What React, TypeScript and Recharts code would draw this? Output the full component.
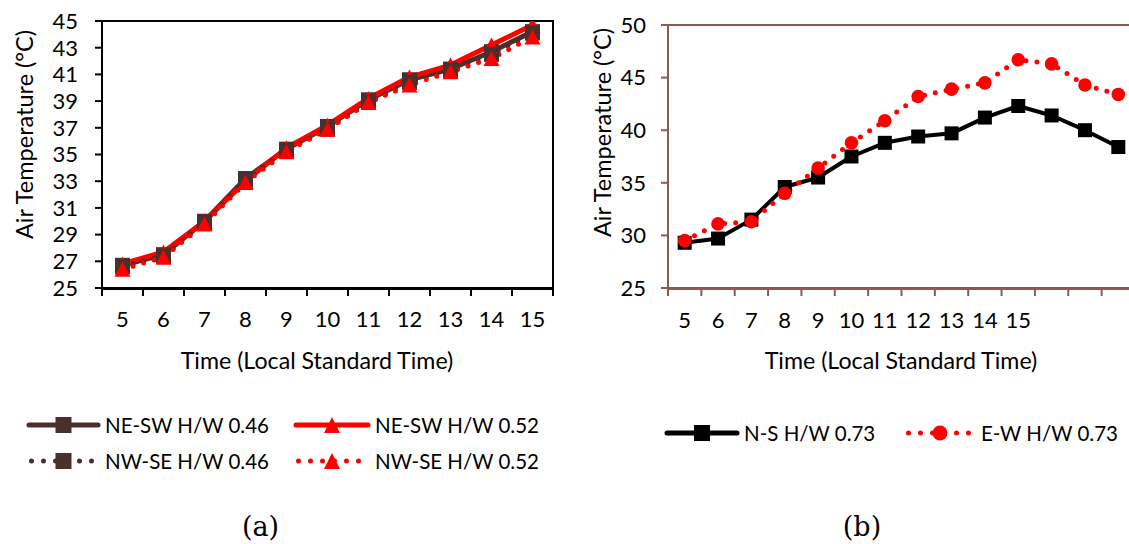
import React from 'react';
import { LineChart, Line, XAxis, YAxis, ReferenceArea } from 'recharts';

// ---------- data: chart (a) ----------
const timesLeft = ['5', '6', '7', '8', '9', '10', '11', '12', '13', '14', '15'];
const neSw046 = [26.7, 27.5, 30.0, 33.2, 35.4, 37.1, 39.1, 40.6, 41.4, 42.7, 44.2];
const neSw052 = [26.8, 27.7, 30.0, 33.0, 35.5, 37.2, 39.2, 40.8, 41.7, 43.2, 44.7];
const nwSe046 = [26.6, 27.4, 29.9, 33.1, 35.3, 36.9, 38.9, 40.4, 41.3, 42.5, 44.1];
const nwSe052 = [26.4, 27.3, 29.8, 32.9, 35.2, 36.9, 38.9, 40.2, 41.2, 42.2, 43.8];
const leftYTicks = [25, 27, 29, 31, 33, 35, 37, 39, 41, 43, 45];

// ---------- data: chart (b) ----------
const timesRight = ['5', '6', '7', '8', '9', '10', '11', '12', '13', '14', '15', '', '', ''];
const nsValues = [29.3, 29.7, 31.5, 34.6, 35.5, 37.5, 38.8, 39.4, 39.7, 41.2, 42.3, 41.4, 40.0, 38.4];
const ewValues = [29.5, 31.1, 31.3, 34.0, 36.4, 38.8, 40.9, 43.2, 43.9, 44.5, 46.7, 46.3, 44.3, 43.4];
const rightYTicks = [25, 30, 35, 40, 45, 50];

const leftLabels = ['NE-SW H/W 0.46', 'NE-SW H/W 0.52', 'NW-SE H/W 0.46', 'NW-SE H/W 0.52'];
const rightLabels = ['N-S H/W 0.73', 'E-W H/W 0.73'];

const leftData = timesLeft.map((t, i) => ({
  idx: i + 1, t, a: neSw046[i], b: neSw052[i], c: nwSe046[i], d: nwSe052[i],
}));
const rightData = timesRight.map((t, i) => ({ idx: i + 1, t, ns: nsValues[i], ew: ewValues[i] }));

const leftBounds = [0.5, ...leftData.map((d) => d.idx + 0.5)];
const rightBounds = [0.5, ...rightData.map((d) => d.idx + 0.5)];
const leftLabelTicks = leftData.map((d) => d.idx);
const rightLabelTicks = rightData.filter((d) => d.t !== '').map((d) => d.idx);

const BROWN = '#4a302c';
const RED = '#ff0000';
const AXISB = '#8c5a55';
const FONT = 'Lato, "Open Sans", sans-serif';

const squareShape = (size: number, fill: string) => (p: any) => {
  const { cx, cy, index } = p;
  if (cx == null || cy == null) return <g key={`s${index}`} />;
  return <rect key={`s${index}`} x={cx - size / 2} y={cy - size / 2} width={size} height={size} fill={fill} />;
};
const triShape = (w: number, h: number, fill: string) => (p: any) => {
  const { cx, cy, index } = p;
  if (cx == null || cy == null) return <g key={`t${index}`} />;
  return (
    <polygon
      key={`t${index}`}
      points={`${cx},${cy - h / 2} ${cx - w / 2},${cy + h / 2} ${cx + w / 2},${cy + h / 2}`}
      fill={fill}
    />
  );
};
const circShape = (r: number, fill: string) => (p: any) => {
  const { cx, cy, index } = p;
  if (cx == null || cy == null) return <g key={`c${index}`} />;
  return <circle key={`c${index}`} cx={cx} cy={cy} r={r} fill={fill} />;
};

const tickStyle = { fill: '#000', fontSize: 22, fontFamily: FONT };

function LegendItem({ x, y, color, dotted, marker, label, w }: any) {
  const x2 = x + w;
  const mx = x + w / 2;
  return (
    <g>
      <line
        x1={x + (dotted ? 2.5 : 0)}
        y1={y}
        x2={x2}
        y2={y}
        stroke={color}
        strokeWidth={5}
        strokeLinecap="round"
        strokeDasharray={dotted ? '0 12' : undefined}
      />
      {marker === 'square' && <rect x={mx - 8} y={y - 8} width={16} height={16} fill={color} />}
      {marker === 'tri' && <polygon points={`${mx},${y - 8} ${mx - 8},${y + 8} ${mx + 8},${y + 8}`} fill={color} />}
      {marker === 'circle' && <circle cx={mx} cy={y} r={7.5} fill={color} />}
      <text x={x2 + 7} y={y + 7.5} fontSize={20.5} fontFamily={FONT} fill="#000">
        {label}
      </text>
    </g>
  );
}

export default function App() {
  return (
    <div
      style={{
        position: 'absolute', left: 0, top: 0, width: 1129, height: 544,
        overflow: 'hidden', background: '#fff',
      }}
    >
      <div style={{ position: 'absolute', left: 0, top: 0 }}>
        <LineChart width={560} height={340} data={leftData} margin={{ top: 21, right: 7, bottom: 50, left: 0 }}>
          <XAxis
            xAxisId="x" dataKey="idx" type="number" domain={[0.5, 11.5]} ticks={leftBounds}
            tickFormatter={() => ''} height={1} tickSize={7} interval={0}
            axisLine={{ stroke: '#000', strokeWidth: 2 }} tickLine={{ stroke: '#000', strokeWidth: 2 }}
            allowDataOverflow
          />
          <XAxis
            xAxisId="lab" dataKey="idx" type="number" domain={[0.5, 11.5]} ticks={leftLabelTicks}
            tickFormatter={(v: number) => timesLeft[v - 1] ?? ''} height={1} tickSize={0} tickMargin={23}
            axisLine={false} tickLine={false} tick={tickStyle} interval={0} allowDataOverflow
          />
          <YAxis
            type="number" domain={[25, 45]} ticks={leftYTicks} width={102} tickSize={7} tickMargin={17}
            interval={0} axisLine={{ stroke: '#000', strokeWidth: 2 }} tickLine={{ stroke: '#000', strokeWidth: 2 }}
            tick={tickStyle} allowDataOverflow
          />
          <ReferenceArea xAxisId="x" x1={0.5} x2={11.5} y1={25} y2={45} fill="none" stroke="#000" strokeWidth={2} ifOverflow="visible" />
          <Line xAxisId="x" dataKey="a" stroke={BROWN} strokeWidth={5} strokeLinejoin="round" dot={squareShape(15, BROWN)} activeDot={false} isAnimationActive={false} />
          <Line xAxisId="x" dataKey="b" stroke={RED} strokeWidth={5} strokeLinejoin="round" dot={triShape(16, 15, RED)} activeDot={false} isAnimationActive={false} />
          <Line xAxisId="x" dataKey="c" stroke={BROWN} strokeWidth={5} strokeLinecap="round" strokeDasharray="0 11" dot={squareShape(15, BROWN)} activeDot={false} isAnimationActive={false} />
          <Line xAxisId="x" dataKey="d" stroke={RED} strokeWidth={5} strokeLinecap="round" strokeDasharray="0 11" dot={triShape(16, 15, RED)} activeDot={false} isAnimationActive={false} />
        </LineChart>
      </div>

      <div style={{ position: 'absolute', left: 560, top: 0 }}>
        <LineChart width={580} height={340} data={rightData} margin={{ top: 25, right: 5, bottom: 50, left: 0 }}>
          <XAxis
            xAxisId="x" dataKey="idx" type="number" domain={[0.5, 14.5]} ticks={rightBounds}
            tickFormatter={() => ''} height={1} tickSize={7} interval={0}
            axisLine={{ stroke: AXISB, strokeWidth: 2 }} tickLine={{ stroke: AXISB, strokeWidth: 2 }}
            allowDataOverflow
          />
          <XAxis
            xAxisId="lab" dataKey="idx" type="number" domain={[0.5, 14.5]} ticks={rightLabelTicks}
            tickFormatter={(v: number) => timesRight[v - 1] ?? ''} height={1} tickSize={0} tickMargin={24}
            axisLine={false} tickLine={false} tick={tickStyle} interval={0} allowDataOverflow
          />
          <YAxis
            type="number" domain={[25, 50]} ticks={rightYTicks} width={108} tickSize={7} tickMargin={15}
            interval={0} axisLine={{ stroke: AXISB, strokeWidth: 2 }} tickLine={{ stroke: AXISB, strokeWidth: 2 }}
            tick={tickStyle} allowDataOverflow
          />
          <ReferenceArea xAxisId="x" x1={0.5} x2={14.5} y1={25} y2={50} fill="none" stroke={AXISB} strokeWidth={2} ifOverflow="visible" />
          <Line xAxisId="x" dataKey="ns" stroke="#000" strokeWidth={4} strokeLinejoin="round" dot={squareShape(14, '#000')} activeDot={false} isAnimationActive={false} />
          <Line xAxisId="x" dataKey="ew" stroke={RED} strokeWidth={5} strokeLinecap="round" strokeDasharray="0 11" dot={circShape(6.8, RED)} activeDot={false} isAnimationActive={false} />
        </LineChart>
      </div>

      <svg style={{ position: 'absolute', left: 0, top: 0 }} width={1129} height={544}>
        <text transform="translate(33,134.5) rotate(-90)" textAnchor="middle" fontSize={23.5} fontFamily={FONT} fill="#000">
          Air Temperature (°C)
        </text>
        <text transform="translate(611,132.5) rotate(-90)" textAnchor="middle" fontSize={23.5} fontFamily={FONT} fill="#000">
          Air Temperature (°C)
        </text>
        <text x={317} y={369} textAnchor="middle" fontSize={23.2} fontFamily={FONT} fill="#000">
          Time (Local Standard Time)
        </text>
        <text x={901} y={369} textAnchor="middle" fontSize={23.2} fontFamily={FONT} fill="#000">
          Time (Local Standard Time)
        </text>

        <LegendItem x={29} y={425} w={69} color={BROWN} marker="square" label={leftLabels[0]} />
        <LegendItem x={296} y={425} w={72} color={RED} marker="tri" label={leftLabels[1]} />
        <LegendItem x={29} y={461} w={69} color={BROWN} marker="square" dotted label={leftLabels[2]} />
        <LegendItem x={296} y={461} w={72} color={RED} marker="tri" dotted label={leftLabels[3]} />

        <LegendItem x={667} y={433} w={70} color="#000" marker="square" label={rightLabels[0]} />
        <LegendItem x={906} y={433} w={68} color={RED} marker="circle" dotted label={rightLabels[1]} />

        <text x={260.5} y={536} textAnchor="middle" fontSize={27} fontFamily='"DejaVu Serif", serif' fill="#000">(a)</text>
        <text x={862} y={536} textAnchor="middle" fontSize={27} fontFamily='"DejaVu Serif", serif' fill="#000">(b)</text>
      </svg>
    </div>
  );
}
